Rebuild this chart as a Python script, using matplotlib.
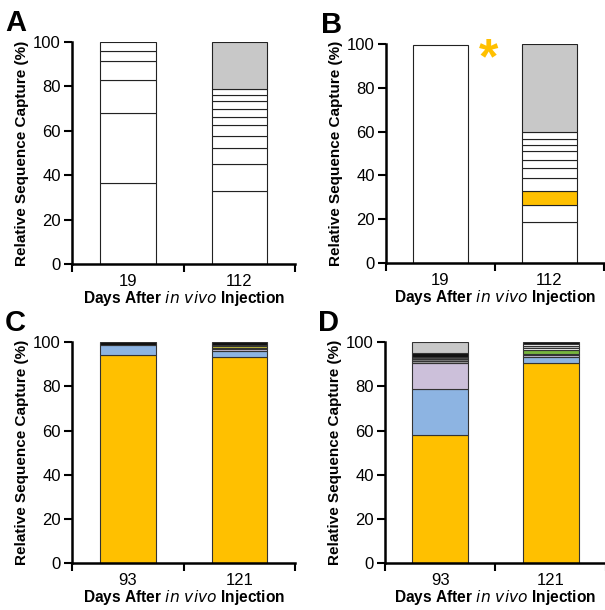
import matplotlib.pyplot as plt
from matplotlib.ticker import FixedLocator

plt.rcParams['font.family'] = ['Liberation Sans', 'DejaVu Sans']

# panel A: early vs late time points, all clones
days_ab = ['19', '112']
a_day19 = [36.7, 31.5, 14.8, 8.6, 4.6, 3.8]
a_day112 = [32.9, 12.2, 7.4, 5.4, 4.8, 3.7, 3.6, 3.5, 2.8, 2.6, 21.1]

# panel B
b_day19 = [99.5]
b_day112 = [18.7, 7.6, 6.7, 5.8, 4.5, 3.8, 3.8, 3.1, 2.8, 2.8, 40.4]

# panel C
days_cd = ['93', '121']
c_day93 = [94.3, 4.5, 1.2]
c_day121 = [93.5, 2.4, 0.9, 0.5, 1.1, 0.5, 1.1]

# panel D
d_day93 = [57.8, 21.2, 11.5, 0.9, 0.9, 1.2, 1.5, 5.0]
d_day121 = [90.5, 2.7, 1.1, 0.5, 1.5, 1.0, 0.9, 0.9, 0.9]

W = 'white'
Y = '#FFC000'
BL = '#8DB4E2'
LV = '#CCC0DA'
GR = '#C8C8C8'
DG = '#7F7F7F'
K = '#111111'
GN = '#77B43F'
OL = '#C9C23A'

a_colors19 = [W] * 6
a_colors112 = [W] * 10 + [GR]
b_colors19 = [W]
b_colors112 = [W, W, Y] + [W] * 7 + [GR]
c_colors93 = [Y, BL, K]
c_colors121 = [Y, BL, LV, W, OL, W, K]
d_colors93 = [Y, BL, LV, '#A0A0A0', DG, '#4D4D4D', K, GR]
d_colors121 = [Y, BL, LV, W, GN, W, GR, W, K]

fig = plt.figure(figsize=(6.05, 6.1), dpi=100)


def stacked(ax, pos, values, colors, edge):
    bottom = 0
    for v, c in zip(values, colors):
        ax.bar(pos, v, width=0.5, bottom=bottom, color=c, edgecolor=edge, linewidth=0.8)
        bottom += v


def panel(rect, letter, days, bars):
    ax = fig.add_axes(rect)
    for i, (vals, cols, edge) in enumerate(bars):
        stacked(ax, i, vals, cols, edge)
    ax.set_xlim(-0.5, 1.5)
    ax.set_ylim(0, 100)
    ax.set_yticks([0, 20, 40, 60, 80, 100])
    ax.xaxis.set_major_locator(FixedLocator([-0.5, 0.5, 1.5]))
    ax.xaxis.set_minor_locator(FixedLocator([0, 1]))
    ax.set_xticklabels([], minor=False)
    ax.set_xticklabels(days, minor=True, fontsize=12)
    ax.tick_params(axis='x', which='minor', length=0, pad=7)
    ax.tick_params(axis='x', which='major', length=6, width=1.5)
    ax.tick_params(axis='y', length=6, width=1.5, labelsize=12, pad=2)
    for s in ['top', 'right']:
        ax.spines[s].set_visible(False)
    for s in ['left', 'bottom']:
        ax.spines[s].set_linewidth(1.8)
    ax.spines['bottom'].set_zorder(5)
    ax.set_ylabel('Relative Sequence Capture (%)', fontsize=11, fontweight='bold', labelpad=3)
    ax.set_xlabel('Days After $\\bf{\\it{in\\ vivo}}$ Injection', fontsize=11.2, fontweight='bold', labelpad=0)
    ax.text(-0.3, 1.085, letter, transform=ax.transAxes, fontsize=21, fontweight='bold',
            va='center', ha='left')
    return ax


panel([0.119, 0.567, 0.369, 0.364], 'A', days_ab,
      [(a_day19, a_colors19, '#222222'), (a_day112, a_colors112, '#222222')])
axb = panel([0.638, 0.569, 0.360, 0.359], 'B', days_ab,
            [(b_day19, b_colors19, '#222222'), (b_day112, b_colors112, '#222222')])
axb.text(0.44, 92.5, '*', fontsize=36, fontweight='bold', color='#FFC000', ha='center', va='center')
panel([0.119, 0.077, 0.369, 0.362], 'C', days_cd,
      [(c_day93, c_colors93, '#333333'), (c_day121, c_colors121, '#333333')])
panel([0.636, 0.077, 0.366, 0.362], 'D', days_cd,
      [(d_day93, d_colors93, '#333333'), (d_day121, d_colors121, '#333333')])

fig.savefig('out.png', dpi=100)
